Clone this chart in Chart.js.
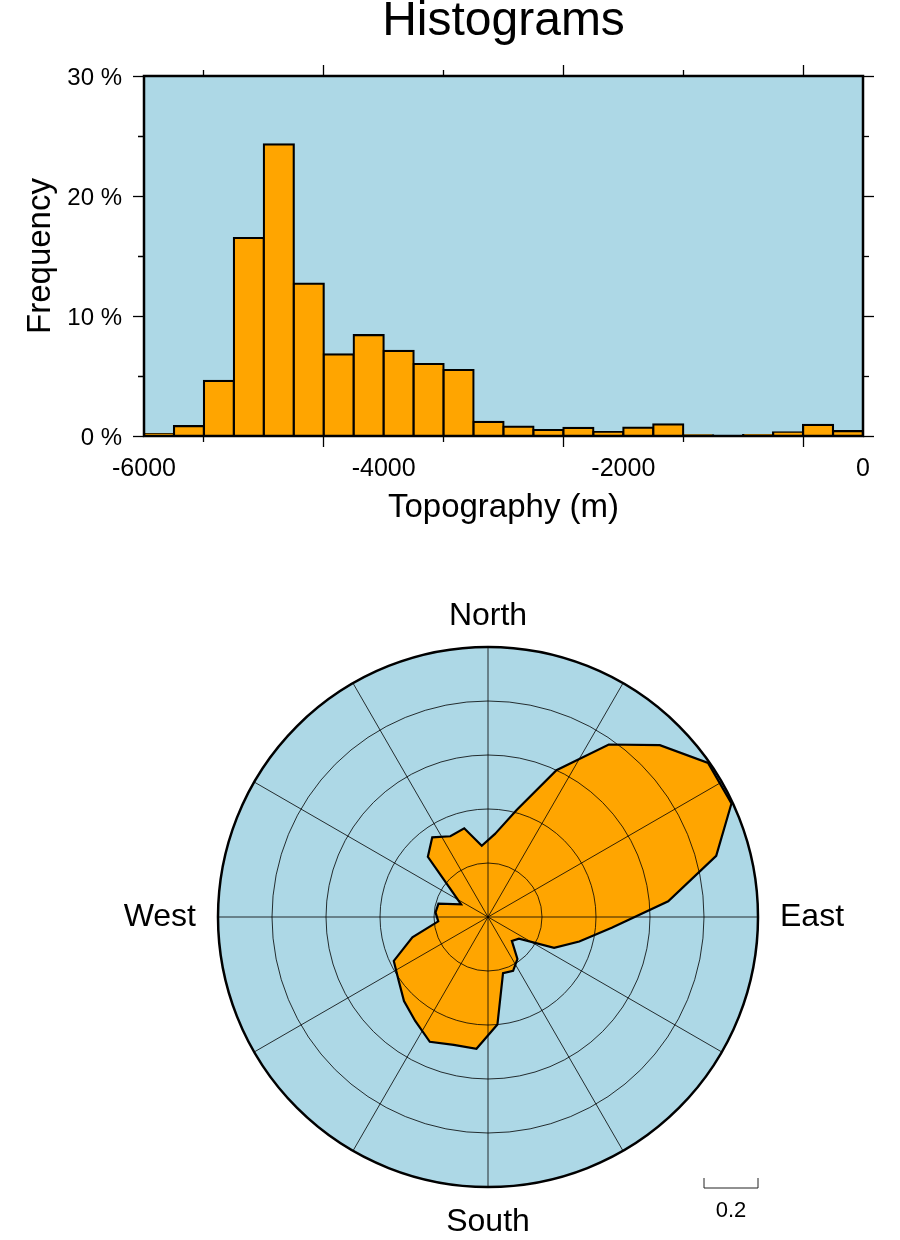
<!DOCTYPE html>
<html lang="en">

<head>
    <meta charset="UTF-8">
    <title>Histograms</title>
    <style>
        body {
            margin: 0;
            background: #fff;
        }

        canvas {
            display: block;
        }
    </style>
</head>

<body>
    <canvas id="histChart" width="900" height="540"></canvas>
    <canvas id="roseChart" width="900" height="700"></canvas>
    <script src="https://cdn.jsdelivr.net/npm/chart.js@4.4.1/dist/chart.umd.min.js"></script>
    <script>
        // topography histogram, 250 m bins
        const binStart = [-6000, -5750, -5500, -5250, -5000, -4750, -4500, -4250, -4000, -3750, -3500, -3250,
            -3000, -2750, -2500, -2250, -2000, -1750, -1500, -1250, -1000, -750, -500, -250];
        const binWidth = 250;
        const frequency = [0.15, 0.83, 4.6, 16.5, 24.3, 12.7, 6.8, 8.4, 7.1, 6.0, 5.5, 1.17,
            0.78, 0.5, 0.67, 0.33, 0.69, 0.97, 0.05, 0.02, 0.08, 0.3, 0.92, 0.4];
        const xTickLabels = [-6000, -4000, -2000, 0];
        const yTickLabels = [0, 10, 20, 30];

        // rose diagram, 10 degree sectors (value at sector centre)
        const roseDirections = [5, 15, 25, 35, 45, 55, 65, 75, 85, 95, 105, 115, 125, 135, 145, 155, 165, 175,
            185, 195, 205, 215, 225, 235, 245, 255, 265, 275, 285, 295, 305, 315, 325, 335, 345, 355];
        const roseLengths = [0.31, 0.41, 0.6, 0.78, 0.9, 0.995, 0.995, 0.875, 0.67, 0.46, 0.35, 0.27, 0.14, 0.125, 0.19, 0.22, 0.215, 0.4,
            0.49, 0.49, 0.51, 0.47, 0.44, 0.405, 0.385, 0.29, 0.185, 0.195, 0.19, 0.11, 0.16, 0.315, 0.36, 0.33, 0.34, 0.265];
        const compassAngles = [0, 90, 180, 270];
        const compassNames = ["North", "East", "South", "West"];
        const roseScaleBar = 0.2;

        const ORANGE = "#ffa500";
        const LIGHTBLUE = "#add8e6";
        const TICK_LEN = 11;

        Chart.defaults.font.family = "'Liberation Sans', Arial, sans-serif";
        Chart.defaults.color = "#000";

        // minor ticks are shorter; top/left tick strokes start at the outer end
        const tickDash = (isMajor, startsOutside) => c => {
            if (!c.tick || isMajor(c.tick.value)) return [];
            return startsOutside ? [0, TICK_LEN - 6, 6, 50] : [6, 50];
        };

        const tickGrid = (isMajor, startsOutside) => ({
            drawOnChartArea: false,
            tickLength: TICK_LEN,
            tickWidth: 1.3,
            tickColor: "#000",
            tickBorderDash: tickDash(isMajor, startsOutside)
        });

        const isMajorX = v => xTickLabels.includes(v);
        const isMajorY = v => yTickLabels.includes(v);

        const plotFrame = {
            id: "plotFrame",
            beforeDraw(chart) {
                const a = chart.chartArea;
                const ctx = chart.ctx;
                ctx.save();
                ctx.fillStyle = LIGHTBLUE;
                ctx.fillRect(a.left, a.top, a.right - a.left, a.bottom - a.top);
                ctx.restore();
            },
            afterDatasetsDraw(chart) {
                const a = chart.chartArea;
                const ctx = chart.ctx;
                ctx.save();
                ctx.strokeStyle = "#000";
                ctx.lineWidth = 2.5;
                ctx.strokeRect(a.left, a.top, a.right - a.left, a.bottom - a.top);
                ctx.restore();
            }
        };

        new Chart(document.getElementById("histChart"), {
            type: "bar",
            data: {
                datasets: [{
                    data: binStart.map((s, i) => ({ x: s + binWidth / 2, y: frequency[i] })),
                    backgroundColor: ORANGE,
                    borderColor: "#000",
                    borderWidth: 2.2,
                    inflateAmount: 1.1,
                    barPercentage: 1,
                    categoryPercentage: 1
                }]
            },
            options: {
                responsive: false,
                animation: false,
                events: [],
                layout: { padding: 0 },
                plugins: { legend: { display: false }, tooltip: { enabled: false } },
                scales: {
                    x: {
                        type: "linear",
                        position: "bottom",
                        min: -6000,
                        max: 0,
                        offset: false,
                        ticks: {
                            stepSize: 1000,
                            autoSkip: false,
                            maxRotation: 0,
                            padding: 7,
                            font: { size: 25 },
                            callback: v => isMajorX(v) ? String(v) : ""
                        },
                        grid: tickGrid(isMajorX, false),
                        border: { display: false },
                        title: { display: true, text: "Topography (m)", font: { size: 33 }, padding: { top: 0, bottom: 12 } },
                        afterFit: s => { s.height = 104; }
                    },
                    x2: {
                        type: "linear",
                        position: "top",
                        min: -6000,
                        max: 0,
                        offset: false,
                        ticks: { stepSize: 1000, display: false },
                        grid: tickGrid(isMajorX, true),
                        border: { display: false },
                        title: { display: true, text: "Histograms", font: { size: 48, lineHeight: 0.92 }, padding: 0 },
                        afterFit: s => { s.height = 76; }
                    },
                    y: {
                        position: "left",
                        min: 0,
                        max: 30,
                        ticks: {
                            stepSize: 5,
                            autoSkip: false,
                            padding: 11,
                            labelOffset: 2,
                            font: { size: 24 },
                            callback: v => isMajorY(v) ? v + " %" : ""
                        },
                        grid: tickGrid(isMajorY, true),
                        border: { display: false },
                        title: { display: true, text: "Frequency", font: { size: 33 }, padding: { top: 21, bottom: 0 } },
                        afterFit: s => { s.width = 144; }
                    },
                    y2: {
                        position: "right",
                        min: 0,
                        max: 30,
                        ticks: { stepSize: 5, display: false },
                        grid: tickGrid(isMajorY, false),
                        border: { display: false },
                        afterFit: s => { s.width = 37; }
                    }
                }
            },
            plugins: [plotFrame]
        });

        // rose: 5 degree slots so the spokes can sit on 0, 30, 60...; sector values on the odd slots
        const roseLabels = [];
        const roseData = [];
        for (let a = 0; a < 360; a += 5) {
            const k = compassAngles.indexOf(a);
            roseLabels.push(k >= 0 ? compassNames[k] : "");
            const j = roseDirections.indexOf(a);
            roseData.push(j >= 0 ? roseLengths[j] : null);
        }

        const roseExtras = {
            id: "roseExtras",
            beforeDraw(chart) {
                const r = chart.scales.r;
                const ctx = chart.ctx;
                ctx.save();
                ctx.fillStyle = LIGHTBLUE;
                ctx.beginPath();
                ctx.arc(r.xCenter, r.yCenter, r.drawingArea, 0, Math.PI * 2);
                ctx.fill();
                ctx.restore();
            },
            afterDraw(chart) {
                // scale bar under the circle, length of one ring
                const r = chart.scales.r;
                const ctx = chart.ctx;
                const len = r.getDistanceFromCenterForValue(roseScaleBar);
                const x2 = r.xCenter + r.drawingArea;
                const x1 = x2 - len;
                const y = r.yCenter + r.drawingArea + 1;
                ctx.save();
                ctx.strokeStyle = "#222";
                ctx.lineWidth = 1;
                ctx.beginPath();
                ctx.moveTo(x1, y - 10);
                ctx.lineTo(x1, y);
                ctx.lineTo(x2, y);
                ctx.lineTo(x2, y - 10);
                ctx.stroke();
                ctx.fillStyle = "#000";
                ctx.font = "22px 'Liberation Sans', Arial, sans-serif";
                ctx.textAlign = "center";
                ctx.textBaseline = "middle";
                ctx.fillText(String(roseScaleBar), (x1 + x2) / 2, y + 23);
                ctx.restore();
            }
        };

        new Chart(document.getElementById("roseChart"), {
            type: "radar",
            data: {
                labels: roseLabels,
                datasets: [{
                    data: roseData,
                    spanGaps: true,
                    fill: true,
                    tension: 0,
                    backgroundColor: ORANGE,
                    borderColor: "#000",
                    borderWidth: 2.2,
                    pointRadius: 0,
                    pointHitRadius: 0
                }]
            },
            options: {
                responsive: false,
                animation: false,
                events: [],
                layout: { padding: { left: 74, right: 0, top: 58, bottom: 0 } },
                plugins: { legend: { display: false }, tooltip: { enabled: false } },
                scales: {
                    r: {
                        min: 0,
                        max: 1,
                        ticks: { display: false, stepSize: 0.2 },
                        grid: {
                            circular: true,
                            color: "#000",
                            lineWidth: c => (c.tick && c.tick.value >= 0.999) ? 2.5 : 0.8,
                            z: 1
                        },
                        angleLines: {
                            color: "#000",
                            lineWidth: c => c.index % 6 === 0 ? 0.8 : 0
                        },
                        pointLabels: {
                            color: "#000",
                            font: c => ({ size: c.label ? 32 : 1, lineHeight: 1 }),
                            padding: c => {
                                if (!c.label) return 0;
                                if (c.index === 0) return 15;
                                if (c.index === 36) return 19;
                                return 22;
                            }
                        }
                    }
                }
            },
            plugins: [roseExtras]
        });
    </script>
</body>

</html>
